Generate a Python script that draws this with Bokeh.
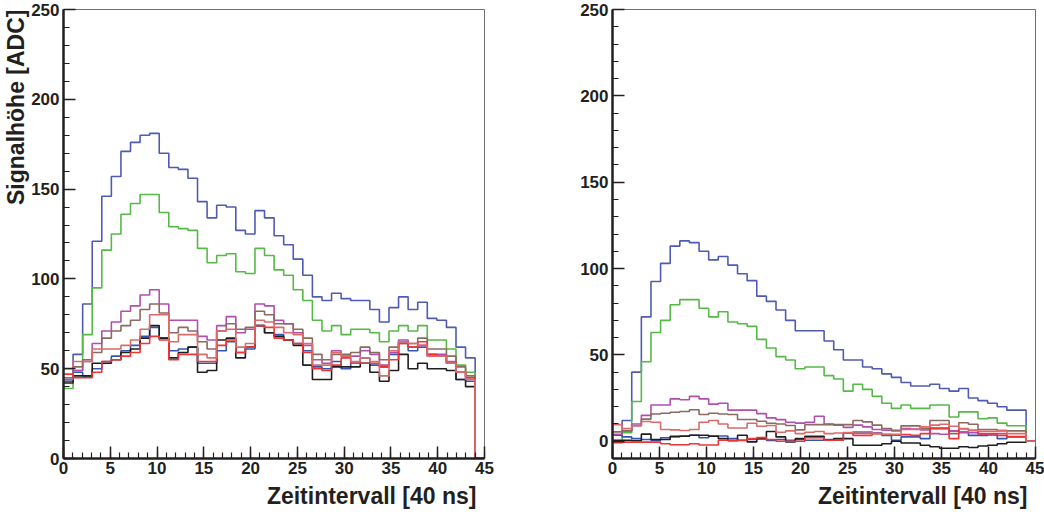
import numpy as np
from bokeh.plotting import figure
from bokeh.layouts import row
from bokeh.models import Range1d, SingleIntervalTicker, Title
from bokeh.embed import file_html
from bokeh.resources import INLINE

# ---- histogram binning (43 bins spanning 0..44), axis goes to 45 ----
X_MIN, X_MAX, N_BINS = 0.0, 44.0, 43
AXIS_X_MAX = 45
x_ticks_interval = 5
y_ticks_interval = 50

# ---- left panel series ----
blue_hi_L = [44, 58, 86, 121, 146, 157, 171, 176, 180, 181, 170, 162, 161, 156, 143, 134, 141, 140, 127, 125,
             138, 134, 124, 119, 111, 102, 90, 88, 92, 89, 88, 88, 83, 76, 84, 90, 83, 87, 78, 77, 73, 62, 56]
green_L = [39, 49, 69, 95, 116, 125, 136, 142, 147, 147, 137, 129, 128, 127, 117, 109, 113, 114, 104, 103,
           117, 113, 105, 102, 94, 88, 77, 71, 74, 69, 72, 72, 70, 65, 71, 74, 71, 74, 66, 66, 61, 52, 48]
magenta_L = [44, 49, 54, 64, 71, 76, 82, 85, 91, 94, 86, 77, 77, 77, 68, 66, 74, 79, 70, 72,
             86, 85, 77, 75, 70, 63, 55, 53, 60, 57, 57, 60, 58, 52, 59, 66, 62, 63, 58, 58, 54, 48, 45]
brown_L = [45, 51, 55, 59, 67, 71, 74, 77, 83, 86, 81, 70, 73, 71, 65, 61, 71, 75, 72, 73,
           82, 80, 75, 75, 72, 67, 58, 55, 58, 58, 59, 62, 59, 55, 62, 64, 64, 67, 61, 61, 57, 51, 46]
salmon_L = [50, 54, 54, 61, 61, 61, 63, 66, 72, 80, 80, 65, 69, 69, 58, 56, 71, 72, 62, 64,
            77, 76, 73, 70, 69, 64, 52, 52, 59, 57, 54, 56, 54, 46, 60, 65, 64, 63, 57, 57, 53, 48, 44]
red_L = [47, 45, 45, 48, 54, 55, 57, 59, 64, 68, 66, 55, 58, 58, 54, 54, 63, 66, 59, 62,
         74, 73, 67, 66, 64, 59, 50, 49, 52, 56, 53, 53, 53, 51, 55, 64, 62, 65, 58, 57, 53, 48, 45]
blue_lo_L = [43, 48, 46, 50, 54, 57, 60, 63, 68, 73, 67, 60, 61, 62, 53, 53, 60, 65, 59, 61,
             74, 70, 69, 66, 64, 60, 51, 50, 54, 50, 53, 56, 52, 51, 58, 65, 60, 62, 57, 57, 53, 44, 43]
black_L = [42, 46, 46, 53, 53, 55, 59, 61, 67, 74, 67, 56, 59, 62, 48, 49, 66, 67, 56, 62,
           74, 70, 68, 66, 63, 52, 44, 44, 51, 51, 51, 53, 48, 43, 49, 58, 50, 53, 50, 50, 49, 44, 40]

# ---- right panel series ----
blue_hi_R = [3.5, 12, 40, 72, 92.5, 103, 113, 116, 115, 110, 105, 107, 102, 97, 93, 84, 81, 76, 70, 64,
             64, 64, 58, 53, 47, 47, 43, 42, 39, 37, 34, 32, 32, 33, 30.5, 29, 30.5, 25, 23.5, 22, 20, 18, 18]
green_R = [-1, 5, 23, 46, 63, 70, 79, 82, 82, 77, 72, 75, 69, 68, 66.5, 59, 54, 49, 47, 42,
           43, 43, 38, 36, 29, 33, 30, 26, 22, 19, 21, 19, 19, 21, 21, 14, 17, 17, 13, 13.5, 10.5, 9, 9]
magenta_R = [4, 6, 10, 15, 21, 21, 24.5, 24, 26, 24.5, 21.5, 22, 18, 18, 18, 16, 13.5, 12.5, 11, 10.5,
             11, 14.5, 10, 9.3, 8, 9.3, 8.3, 6.8, 6.4, 6, 7.3, 7, 6.5, 4.4, 4, 6, 5, 5, 4, 4, 4.5, 2.5, 2.5]
brown_R = [5.4, 6, 9, 12.8, 15.8, 16.2, 16.8, 17.2, 18.2, 15.5, 16.2, 15.8, 15.5, 12.6, 12.6, 11.6, 10.4, 10, 9.1, 6.6,
           9.6, 9.6, 9.6, 9.6, 9.6, 12, 11.2, 9.3, 7.3, 6.4, 8.9, 8.9, 7.3, 12, 12, 4.4, 10.7, 9.8, 6.8, 6.8, 6, 6, 6]
salmon_R = [9.6, 7.3, 9, 11.4, 11, 6.8, 6.6, 6.2, 6.8, 11, 12, 10, 7.7, 7.7, 10.4, 8.7, 9.1, 5.2, 6, 4.4,
            5.2, 5.6, 4.4, 4.8, 5, 5.5, 5.5, 4.4, 4, 4, 6.8, 6.8, 8.3, 9.3, 9.8, 8.7, 7.3, 6.4, 5.8, 5.8, 6.4, 4.4, 4.4]
red_R = [-0.5, -0.5, -0.5, -0.5, -0.5, -1.5, -2, -2, -1.5, -2.2, -2.2, 0.6, 0.6, 0.6, 1.5, 2.1, 1, 0, 0, 0,
         2, 2, 0.6, 0.6, 4.8, 3.4, 3.4, 4.4, 3.8, 3.5, 3.8, 3.4, 4.4, 7.6, 7.6, 1.5, 7.2, 6.3, 4.4, 4.4, 3.4, 2.7, 2.7]
blue_lo_R = [3.5, 2.5, 1.5, 1, 0.5, 2, 2.5, 3, 3.5, 2, 3, 3, 1.5, 0.5, 1, 1.5, 0.5, 1, 0.5, 1,
             0.6, 0.6, 1, 0.6, 4.8, 4.8, 4.8, 4.8, 3.4, 0.6, 2.5, 2.5, 1.5, 7.3, 7.3, 6, 5.3, 3.4, 3.4, 3.6, 1.5, 2.5, 2.5]
black_R = [0.6, 0.6, 0.3, 4.1, 1, 1, 2.9, 2.9, 3.5, 3.5, 2.9, 1.5, 0.3, 3.5, -0.4, 1.5, 5.6, 2.5, -0.4, 1.5,
           2.9, 2.9, 0.6, 1.5, 1.5, -2.3, -2.3, -2.3, -1.5, 0, -1, -1, -2.3, -3.2, -4.1, -4.1, -3.2, -3.6, -2.8, -2.3, -1.5, -0.6, -0.6]

COLORS = {
    "blue_hi": "#4f5bb3", "green": "#56b947", "blue_lo": "#3556b0", "black": "#1e1e1e",
    "magenta": "#b04fae", "brown": "#8a6b62", "red": "#ee3434", "salmon": "#dc6a6a",
}

edges = np.linspace(X_MIN, X_MAX, N_BINS + 1)


def hist_path(vals):
    xs, ys = [], []
    for i, v in enumerate(vals):
        xs += [edges[i], edges[i + 1]]
        ys += [v, v]
    xs += [X_MAX, AXIS_X_MAX]
    ys += [0, 0]
    return xs, ys


FONT = "Liberation Sans"
TXT = "#231f20"


def make_fig(ymin, width, left, right):
    p = figure(width=width, height=517, x_range=Range1d(0, AXIS_X_MAX), y_range=Range1d(ymin, 250),
               output_backend="svg", toolbar_location=None, title=None,
               min_border_left=left, min_border_right=right, min_border_top=9, min_border_bottom=59)
    p.xgrid.visible = False
    p.ygrid.visible = False
    p.outline_line_color = "#707070"
    p.outline_line_width = 1
    p.background_fill_color = "white"
    p.border_fill_color = "white"
    p.xaxis.ticker = SingleIntervalTicker(interval=x_ticks_interval, num_minor_ticks=5)
    p.yaxis.ticker = SingleIntervalTicker(interval=y_ticks_interval, num_minor_ticks=5)
    for ax in (p.xaxis[0], p.yaxis[0]):
        ax.axis_line_width = 2.5
        ax.axis_line_color = TXT
        ax.major_tick_in = 12
        ax.major_tick_out = 0
        ax.minor_tick_in = 6
        ax.minor_tick_out = 0
        ax.major_tick_line_width = 1.5
        ax.minor_tick_line_width = 1.2
        ax.major_tick_line_color = TXT
        ax.minor_tick_line_color = TXT
        ax.major_label_text_font = FONT
        ax.major_label_text_font_style = "bold"
        ax.major_label_text_font_size = "17px"
        ax.major_label_text_color = TXT
    p.xaxis[0].major_label_standoff = 3
    p.yaxis[0].major_label_standoff = 4
    p.add_layout(Title(text="Zeitintervall [40 ns]", align="right", text_font=FONT,
                       text_font_style="bold", text_font_size="23px", text_color=TXT,
                       standoff=8, offset=8), "below")
    return p


order = ["blue_hi", "green", "blue_lo", "black", "magenta", "brown", "red", "salmon"]

pL = make_fig(0, 540, 63, 56)
pL.add_layout(Title(text="Signalhöhe [ADC]", align="right", text_font=FONT,
                    text_font_style="bold", text_font_size="23px", text_color=TXT,
                    standoff=0), "left")
left_data = {"blue_hi": blue_hi_L, "green": green_L, "blue_lo": blue_lo_L, "black": black_L,
             "magenta": magenta_L, "brown": brown_L, "red": red_L, "salmon": salmon_L}
for k in order:
    xs, ys = hist_path(left_data[k])
    pL.line(xs, ys, line_color=COLORS[k], line_width=1.6)

pR = make_fig(-10, 504, 72, 9)
right_data = {"blue_hi": blue_hi_R, "green": green_R, "blue_lo": blue_lo_R, "black": black_R,
              "magenta": magenta_R, "brown": brown_R, "red": red_R, "salmon": salmon_R}
for k in order:
    xs, ys = hist_path(right_data[k])
    pR.line(xs, ys, line_color=COLORS[k], line_width=1.6)

layout = row(pL, pR)
open("out.html", "w").write(file_html(layout, INLINE))
